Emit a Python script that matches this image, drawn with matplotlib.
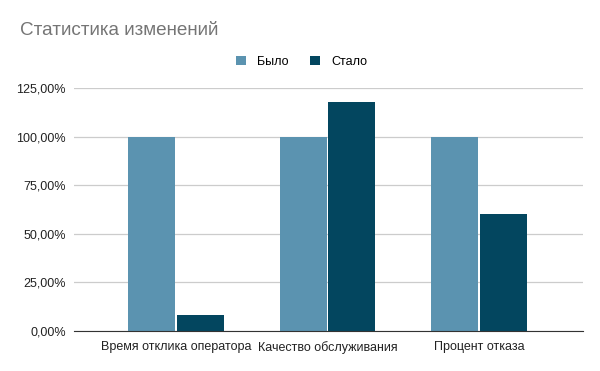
import matplotlib
matplotlib.use("Agg")
import matplotlib.pyplot as plt
import numpy as np

plt.rcParams['font.family'] = ['Liberation Sans', 'DejaVu Sans']

categories = ["Время отклика оператора", "Качество обслуживания", "Процент отказа"]
bylo = [100, 100, 100]
stalo = [8, 118, 60]
series_names = ["Было", "Стало"]
colors = ["#5b93b0", "#03465f"]
yticks = [0, 25, 50, 75, 100, 125]

fig = plt.figure(figsize=(6, 3.71), dpi=100)
ax = fig.add_axes([0.1233, 0.1078, 0.8484, 0.655])

x = np.arange(len(categories))
w = 0.31
ax.bar(x - w/2 - 0.006, bylo, w, color=colors[0], label=series_names[0], zorder=3)
ax.bar(x + w/2 + 0.006, stalo, w, color=colors[1], label=series_names[1], zorder=3)

ax.set_xlim(-0.673, 2.686)
ax.set_ylim(0, 125)
ax.set_yticks(yticks)
ax.set_yticklabels([f"{v:.2f}".replace(".", ",") + "%" for v in yticks])
ax.set_xticks(x)
ax.set_xticklabels(categories)
ax.tick_params(axis='both', length=0, labelsize=9, colors="#222222")
ax.tick_params(axis='x', pad=7)
ax.tick_params(axis='y', pad=6)
ax.grid(axis='y', color="#cccccc", linewidth=0.9, zorder=0)
for s in ["top", "right", "left"]:
    ax.spines[s].set_visible(False)
ax.spines["bottom"].set_color("#333333")
ax.spines["bottom"].set_zorder(4)

fig.text(0.033, 0.918, "Статистика изменений", fontsize=13.6, color="#757575", va="center")
fig.legend(loc="center", bbox_to_anchor=(0.503, 0.833), ncol=2, frameon=False,
           fontsize=9, handlelength=0.8, handleheight=0.8, columnspacing=1.7,
           handletextpad=0.9)

fig.savefig("out.png", dpi=100)
